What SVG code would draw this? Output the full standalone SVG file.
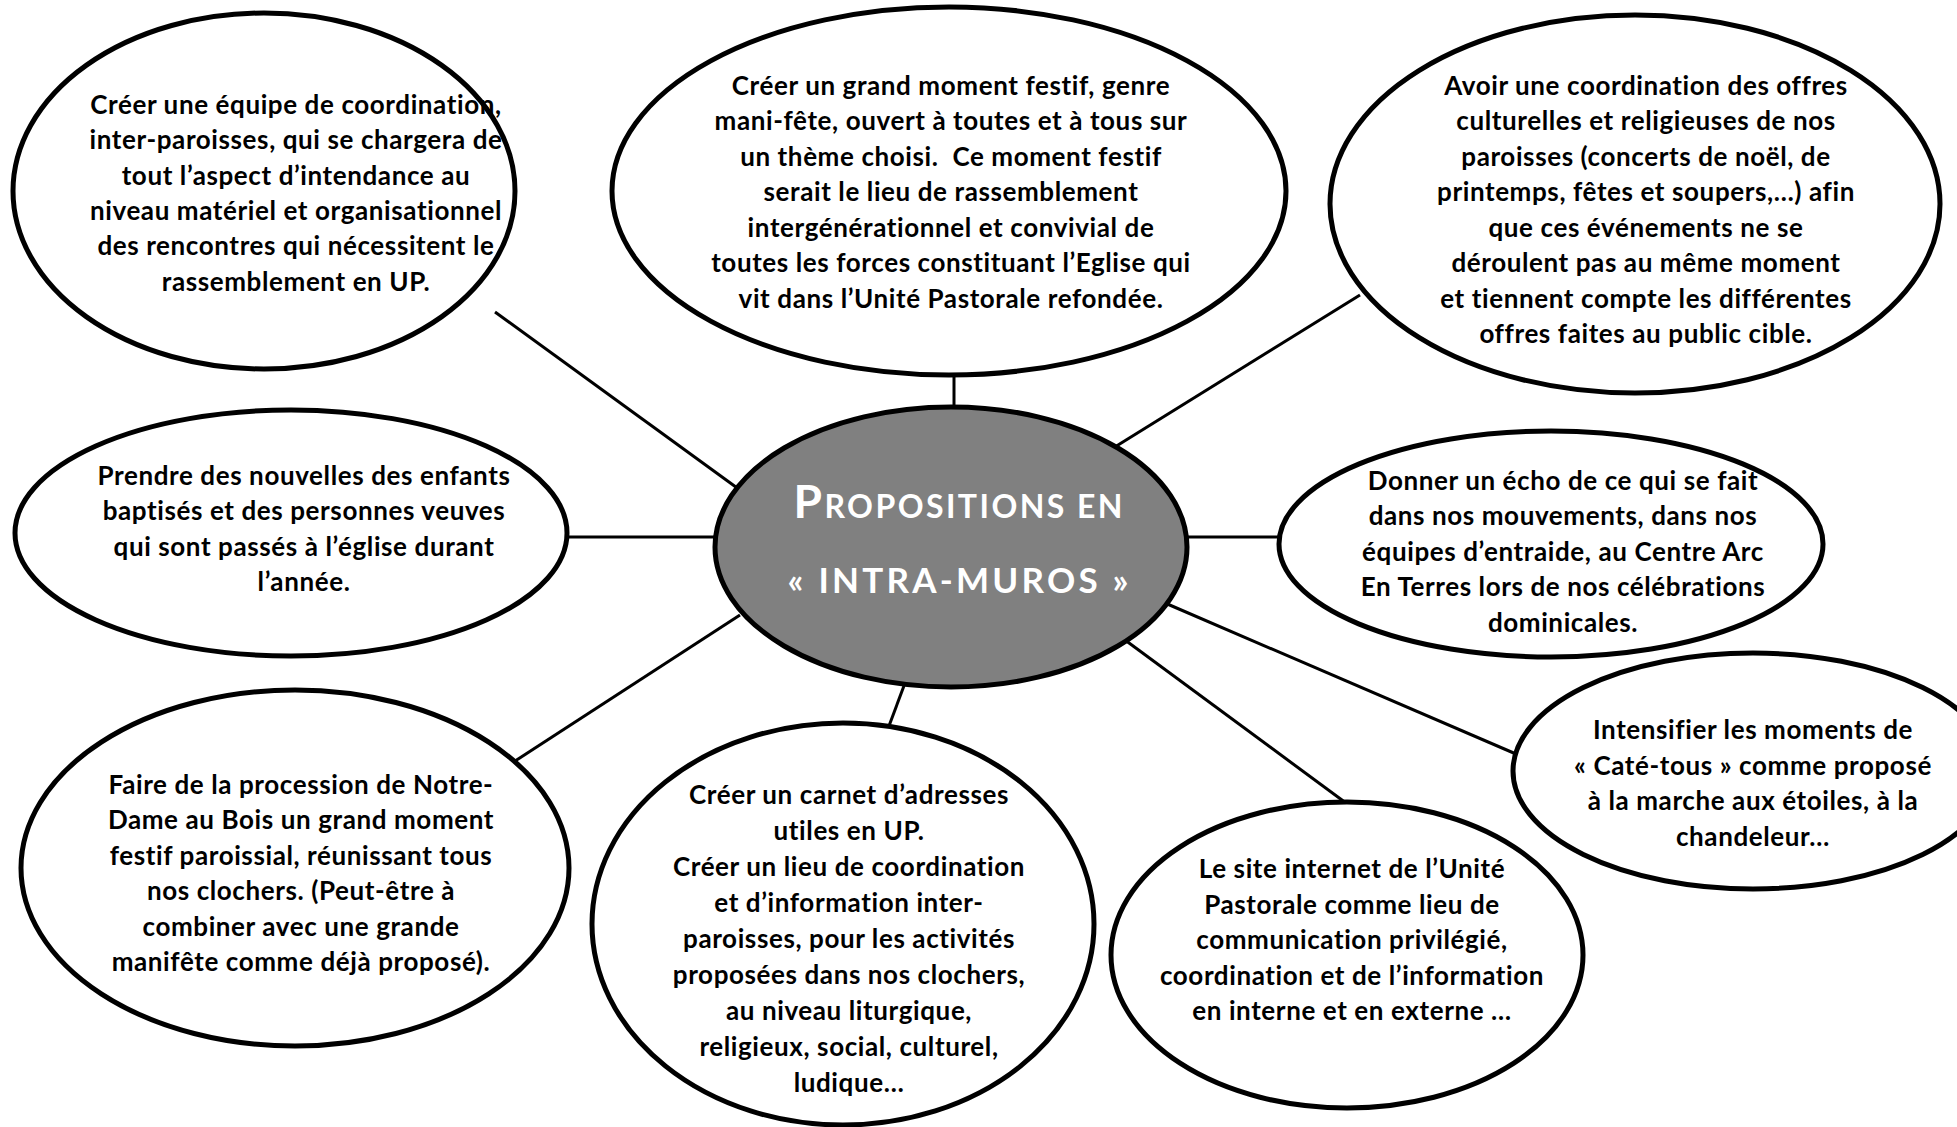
<svg xmlns="http://www.w3.org/2000/svg" width="1957" height="1127" viewBox="0 0 1957 1127">
<style>
.node{fill:#fff;stroke:#000;stroke-width:5}
.hub{fill:#808080;stroke:#000;stroke-width:5}
.conn line{stroke:#000;stroke-width:3}
.t{font-family:Lato,"Liberation Sans",sans-serif;font-weight:bold;font-size:26px;letter-spacing:0.6px;fill:#000;text-anchor:middle}
.h{font-family:Lato,"Liberation Sans",sans-serif;font-weight:bold;fill:#fff;text-anchor:middle}
</style>
<rect width="1957" height="1127" fill="#fff"/>
<g id="connectors" class="conn">
<line x1="495" y1="312" x2="740" y2="490"/>
<line x1="954" y1="370" x2="954" y2="412"/>
<line x1="1360" y1="295" x2="1110" y2="450"/>
<line x1="565" y1="537" x2="720" y2="537"/>
<line x1="1182" y1="537" x2="1282" y2="537"/>
<line x1="1165" y1="603" x2="1516" y2="754"/>
<line x1="1125" y1="640" x2="1346" y2="803"/>
<line x1="905" y1="683" x2="889" y2="726"/>
<line x1="740" y1="615" x2="512" y2="763"/>
</g>
<g id="hub">
<ellipse class="hub" cx="951" cy="547" rx="236" ry="140"/>
<text class="h" x="958" y="518" textLength="329" lengthAdjust="spacing"><tspan font-size="46">P</tspan><tspan font-size="32">ROPOSITIONS EN</tspan></text>
<text class="h" x="958" y="593" font-size="35" textLength="341" lengthAdjust="spacing">« INTRA-MUROS »</text>
</g>
<g id="n1">
<ellipse class="node" cx="264" cy="191" rx="251" ry="178"/>
<text class="t"><tspan x="296" y="114">Créer une équipe de coordination,</tspan><tspan x="296" y="149">inter-paroisses, qui se chargera de</tspan><tspan x="296" y="185">tout l’aspect d’intendance au</tspan><tspan x="296" y="220">niveau matériel et organisationnel</tspan><tspan x="296" y="255">des rencontres qui nécessitent le</tspan><tspan x="296" y="291">rassemblement en UP.</tspan></text>
</g>
<g id="n2">
<ellipse class="node" cx="949" cy="191" rx="337" ry="184"/>
<text class="t"><tspan x="951" y="95">Créer un grand moment festif, genre</tspan><tspan x="951" y="130">mani-fête, ouvert à toutes et à tous sur</tspan><tspan x="951" y="166">un thème choisi.&#160; Ce moment festif</tspan><tspan x="951" y="201">serait le lieu de rassemblement</tspan><tspan x="951" y="237">intergénérationnel et convivial de</tspan><tspan x="951" y="272">toutes les forces constituant l’Eglise qui</tspan><tspan x="951" y="308">vit dans l’Unité Pastorale refondée.</tspan></text>
</g>
<g id="n3">
<ellipse class="node" cx="1635" cy="204" rx="305" ry="189"/>
<text class="t"><tspan x="1646" y="95">Avoir une coordination des offres</tspan><tspan x="1646" y="130">culturelles et religieuses de nos</tspan><tspan x="1646" y="166">paroisses (concerts de noël, de</tspan><tspan x="1646" y="201">printemps, fêtes et soupers,…) afin</tspan><tspan x="1646" y="237">que ces événements ne se</tspan><tspan x="1646" y="272">déroulent pas au même moment</tspan><tspan x="1646" y="308">et tiennent compte les différentes</tspan><tspan x="1646" y="343">offres faites au public cible.</tspan></text>
</g>
<g id="n4">
<ellipse class="node" cx="291" cy="533" rx="276" ry="123"/>
<text class="t"><tspan x="304" y="485">Prendre des nouvelles des enfants</tspan><tspan x="304" y="520">baptisés et des personnes veuves</tspan><tspan x="304" y="556">qui sont passés à l’église durant</tspan><tspan x="304" y="591">l’année.</tspan></text>
</g>
<g id="n5">
<ellipse class="node" cx="1551" cy="544" rx="272" ry="113"/>
<text class="t"><tspan x="1563" y="490">Donner un écho de ce qui se fait</tspan><tspan x="1563" y="525">dans nos mouvements, dans nos</tspan><tspan x="1563" y="561">équipes d’entraide, au Centre Arc</tspan><tspan x="1563" y="596">En Terres lors de nos célébrations</tspan><tspan x="1563" y="632">dominicales.</tspan></text>
</g>
<g id="n6">
<ellipse class="node" cx="1753" cy="771" rx="240" ry="118"/>
<text class="t"><tspan x="1753" y="739">Intensifier les moments de</tspan><tspan x="1753" y="775">« Caté-tous » comme proposé</tspan><tspan x="1753" y="810">à la marche aux étoiles, à la</tspan><tspan x="1753" y="846">chandeleur…</tspan></text>
</g>
<g id="n7">
<ellipse class="node" cx="295" cy="868" rx="274" ry="178"/>
<text class="t"><tspan x="301" y="794">Faire de la procession de Notre-</tspan><tspan x="301" y="829">Dame au Bois un grand moment</tspan><tspan x="301" y="865">festif paroissial, réunissant tous</tspan><tspan x="301" y="900">nos clochers. (Peut-être à</tspan><tspan x="301" y="936">combiner avec une grande</tspan><tspan x="301" y="971">manifête comme déjà proposé).</tspan></text>
</g>
<g id="n8">
<ellipse class="node" cx="843" cy="924" rx="251" ry="201"/>
<text class="t"><tspan x="849" y="804">Créer un carnet d’adresses</tspan><tspan x="849" y="840">utiles en UP.</tspan><tspan x="849" y="876">Créer un lieu de coordination</tspan><tspan x="849" y="912">et d’information inter-</tspan><tspan x="849" y="948">paroisses, pour les activités</tspan><tspan x="849" y="984">proposées dans nos clochers,</tspan><tspan x="849" y="1020">au niveau liturgique,</tspan><tspan x="849" y="1056">religieux, social, culturel,</tspan><tspan x="849" y="1092">ludique…</tspan></text>
</g>
<g id="n9">
<ellipse class="node" cx="1347" cy="955" rx="236" ry="153"/>
<text class="t"><tspan x="1352" y="878">Le site internet de l’Unité</tspan><tspan x="1352" y="914">Pastorale comme lieu de</tspan><tspan x="1352" y="949">communication privilégié,</tspan><tspan x="1352" y="985">coordination et de l’information</tspan><tspan x="1352" y="1020">en interne et en externe …</tspan></text>
</g>
</svg>
